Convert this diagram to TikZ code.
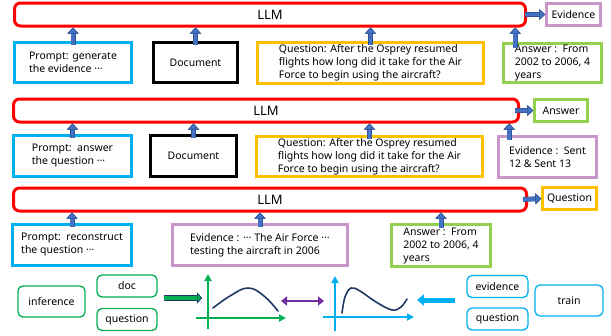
\documentclass[tikz,border=0pt]{standalone}
\usepackage{fontspec}
\setmainfont{Noto Sans}
\usetikzlibrary{arrows.meta}

\definecolor{llmred}{RGB}{255,0,0}
\definecolor{promptblue}{RGB}{0,176,240}
\definecolor{questorange}{RGB}{255,192,0}
\definecolor{answergreen}{RGB}{146,208,80}
\definecolor{evidmauve}{RGB}{200,150,200}
\definecolor{arrowblue}{RGB}{68,114,196}
\definecolor{arrowedge}{RGB}{47,85,151}
\definecolor{axisgreen}{RGB}{0,176,80}
\definecolor{curvenavy}{RGB}{31,56,100}
\definecolor{linkpurple}{RGB}{112,48,160}

\tikzset{
  llmbar/.style={draw=llmred, line width=3pt, rounded corners=6pt, minimum height=23pt,
    font=\fontsize{13}{15}\selectfont},
  box/.style={line width=2.5pt, align=left, inner sep=1pt, font=\fontsize{10.5}{13}\selectfont},
  outbox/.style={line width=2.5pt, inner sep=1pt, minimum height=22pt, font=\fontsize{10.5}{13}\selectfont},
  tag/.style={draw, line width=1.3pt, rounded corners=5pt, font=\fontsize{10.5}{13}\selectfont},
  uparr/.style={draw=arrowblue, line width=3.8pt,
    -{Triangle[length=6pt,width=11pt,fill=arrowblue,color=arrowedge,line width=0.6pt]},
    preaction={draw=arrowedge, line width=5pt}},
  axis/.style={line width=2pt, -{Triangle[length=7pt,width=7pt]}},
  curve/.style={draw=curvenavy, line width=1.6pt, line cap=round}
}

\begin{document}
\begin{tikzpicture}[x=1pt,y=-1pt]
\useasboundingbox (0,0) rectangle (611,335);

% row 1: evidence
\node[llmbar, minimum width=511pt] (llm1) at (270,14.5) {LLM};
\node[box, draw=promptblue, minimum width=117pt, minimum height=40pt] (prompt1) at (73,62.5) {Prompt: generate\\the evidence ···};
\node[box, draw=black, line width=3pt, minimum width=84pt, minimum height=40pt] (doc1) at (195.5,62.5) {Document};
\node[box, draw=questorange, minimum width=226pt, minimum height=41pt] (quest1) at (370.5,63) {Question: After the Osprey resumed\\flights how long did it take for the Air\\Force to begin using the aircraft?};
\node[box, draw=answergreen, minimum width=98pt, minimum height=39pt] (ans1) at (552.5,63) {Answer :\ \ From\\2002 to 2006, 4\\years};
\node[outbox, draw=evidmauve, minimum width=54pt] (evid1) at (573.5,14.5) {Evidence};

\coordinate (s1) at ([xshift=13pt,yshift=-6pt]ans1.north west);
\draw[uparr] ([yshift=-4pt]prompt1.north) -- (prompt1.north |- llm1.south);
\draw[uparr] ([yshift=-4pt]doc1.north) -- (doc1.north |- llm1.south);
\draw[uparr] ([yshift=-4pt]quest1.north) -- (quest1.north |- llm1.south);
\draw[uparr] (s1) -- (s1 |- llm1.south);
\draw[uparr] ([xshift=-2pt]llm1.east) -- (evid1.west);

% row 2: answer
\node[llmbar, minimum width=505pt] (llm2) at (266,110.5) {LLM};
\node[box, draw=promptblue, minimum width=118pt, minimum height=41pt] (prompt2) at (72.5,156) {Prompt:\ \ answer\\the question ···};
\node[box, draw=black, line width=3pt, minimum width=86pt, minimum height=41pt] (doc2) at (193.5,156) {Document};
\node[box, draw=questorange, minimum width=226pt, minimum height=40pt] (quest2) at (369.5,156.5) {Question: After the Osprey resumed\\flights how long did it take for the Air\\Force to begin using the aircraft?};
\node[box, draw=evidmauve, minimum width=98pt, minimum height=41pt] (evid2) at (547.5,157) {Evidence :\ \ Sent\\12 \& Sent 13};
\node[outbox, draw=answergreen, minimum width=53pt] (ans2) at (561,110.5) {Answer};

\coordinate (s2) at ([xshift=12pt,yshift=-5pt]evid2.north west);
\draw[uparr] ([yshift=-4pt]prompt2.north) -- (prompt2.north |- llm2.south);
\draw[uparr] ([yshift=-4pt]doc2.north) -- (doc2.north |- llm2.south);
\draw[uparr] ([yshift=-4pt]quest2.north) -- (quest2.north |- llm2.south);
\draw[uparr] (s2) -- (s2 |- llm2.south);
\draw[uparr] ([xshift=-5pt]llm2.east) -- (ans2.west);

% row 3: question
\node[llmbar, minimum width=513pt] (llm3) at (270,199.5) {LLM};
\node[box, draw=promptblue, minimum width=119pt, minimum height=41pt] (prompt3) at (72,245) {Prompt:\ \ reconstruct\\the question ···};
\node[box, draw=evidmauve, minimum width=175pt, minimum height=41pt] (evid3) at (260,245) {Evidence : ··· The Air Force ···\\testing the aircraft in 2006};
\node[box, draw=answergreen, minimum width=99pt, minimum height=42pt] (ans3) at (441,245.5) {Answer :\ \ From\\2002 to 2006, 4\\years};
\node[outbox, draw=questorange, minimum width=54pt] (quest3) at (569.5,198.5) {Question};

\draw[uparr] ([yshift=-4pt]prompt3.north) -- (prompt3.north |- llm3.south);
\draw[uparr] ([yshift=-4pt]evid3.north) -- (evid3.north |- llm3.south);
\draw[uparr] ([yshift=-5pt]ans3.north) -- (ans3.north |- llm3.south);
\draw[uparr] ([xshift=-5pt]llm3.east) -- (quest3.west);

% bottom: inference vs train
\node[tag, draw=axisgreen, minimum width=67pt, minimum height=31pt] (infer) at (51.5,301.5) {inference};
\node[tag, draw=axisgreen, minimum width=60pt, minimum height=22pt] (doc) at (127,286) {doc};
\node[tag, draw=axisgreen, minimum width=60pt, minimum height=22pt] (quest) at (127,319.5) {question};
\node[tag, draw=promptblue, minimum width=61pt, minimum height=22pt] (evid) at (497.5,286.5) {evidence};
\node[tag, draw=promptblue, minimum width=61pt, minimum height=22pt] (questb) at (497.5,319) {question};
\node[tag, draw=promptblue, minimum width=68pt, minimum height=31pt] (train) at (569,300.5) {train};

\coordinate (g1) at (164,298);
\coordinate (g2) at (202,298);
\draw[draw=axisgreen, line width=4pt,
  -{Triangle[length=5pt,width=11pt,fill=axisgreen,color=curvenavy,line width=0.6pt]},
  preaction={draw=curvenavy, line width=5.4pt}] (g1) -- (g2);

\draw[axis, axisgreen] (208,329) -- (208,274);
\draw[axis, axisgreen] (196,318) -- (286,318);
\draw[curve] plot[smooth, tension=0.7] coordinates {(213,308) (230,296) (248,288) (264,296) (278,311)};

\coordinate (m1) at (281,301);
\coordinate (m2) at (324,301);
\draw[linkpurple, line width=2.5pt, {Triangle[length=6pt,width=9pt]}-{Triangle[length=6pt,width=9pt]}] (m1) -- (m2);

\draw[axis, promptblue] (335,331) -- (335,276);
\draw[axis, promptblue] (323,317) -- (414,317);
\draw[curve] plot[smooth, tension=0.6] coordinates {(342,313) (345,297) (351,288) (360,291) (376,302) (392,310) (401,307) (407,299)};

\coordinate (c1) at (455,300);
\coordinate (c2) at (417,300);
\draw[promptblue, line width=5pt, -{Triangle[length=7pt,width=11pt]}] (c1) -- (c2);

\end{tikzpicture}
\end{document}
